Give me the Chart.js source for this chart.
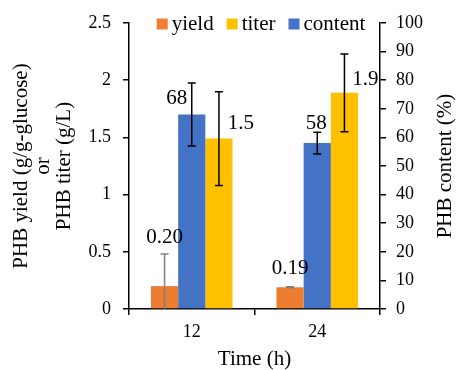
<!DOCTYPE html>
<html>
<head>
<meta charset="utf-8">
<script src="https://cdn.jsdelivr.net/npm/chart.js@4.4.0/dist/chart.umd.min.js"></script>
<style>
  html, body { margin: 0; padding: 0; background: #fff; }
</style>
</head>
<body>
<canvas id="myChart" width="458" height="370"></canvas>
<script>
// values
var times = ['12', '24'];
var yieldVals = [0.20, 0.19];
var yieldErr = [0.28, 0.005];
var contentVals = [68, 58];
var contentErr = [11, 3.8];
var titerVals = [1.49, 1.89];
var titerErr = [0.41, 0.34];
var legendOrder = ['yield', 'titer', 'content'];

var serif = '"Liberation Serif", "Times New Roman", serif';
Chart.defaults.color = '#000';
Chart.defaults.font.family = serif;

// error bars drawn from each dataset's own y scale
var errorBars = {
  id: 'errorBars',
  afterDatasetsDraw: function(chart) {
    var ctx = chart.ctx, area = chart.chartArea;
    ctx.save();
    ctx.beginPath();
    ctx.rect(area.left, 0, area.right - area.left, area.bottom);
    ctx.clip();
    chart.data.datasets.forEach(function(ds, i) {
      var meta = chart.getDatasetMeta(i);
      var scale = chart.scales[ds.yAxisID];
      meta.data.forEach(function(bar, j) {
        var v = ds.data[j], e = ds.errors[j];
        var yTop = scale.getPixelForValue(v + e);
        var yBot = scale.getPixelForValue(v - e);
        ctx.strokeStyle = ds.errorColor;
        ctx.lineWidth = 1.5;
        ctx.beginPath();
        ctx.moveTo(bar.x, yTop); ctx.lineTo(bar.x, yBot);
        ctx.moveTo(bar.x - 4, yTop); ctx.lineTo(bar.x + 4, yTop);
        ctx.moveTo(bar.x - 4, yBot); ctx.lineTo(bar.x + 4, yBot);
        ctx.stroke();
      });
    });
    ctx.restore();
  }
};

// value labels, nudged like the excel original
var valueLabels = {
  id: 'valueLabels',
  afterDatasetsDraw: function(chart) {
    var ctx = chart.ctx;
    ctx.save();
    ctx.font = '21px ' + serif;
    ctx.fillStyle = '#000';
    ctx.textAlign = 'center';
    ctx.textBaseline = 'middle';
    chart.data.datasets.forEach(function(ds, i) {
      var meta = chart.getDatasetMeta(i);
      meta.data.forEach(function(bar, j) {
        var off = ds.labelOffsets[j];
        ctx.fillText(ds.data[j].toFixed(ds.decimals), bar.x + off[0], bar.y + off[1]);
      });
    });
    ctx.restore();
  }
};

// legend sits inside the plot, in yield / titer / content order
var topLegend = {
  id: 'topLegend',
  afterDraw: function(chart) {
    var ctx = chart.ctx;
    var items = legendOrder.map(function(name) {
      return chart.data.datasets.find(function(d) { return d.label === name; });
    });
    ctx.save();
    ctx.font = '21px ' + serif;
    ctx.textBaseline = 'middle';
    ctx.textAlign = 'left';
    var box = 11, gap = 4, spacing = 13, total = 0;
    items.forEach(function(ds, k) {
      total += box + gap + ctx.measureText(ds.label).width + (k ? spacing : 0);
    });
    var x = 261 - total / 2, y = 24;
    items.forEach(function(ds) {
      ctx.fillStyle = ds.backgroundColor;
      ctx.fillRect(x, y - box / 2, box, box);
      ctx.fillStyle = '#000';
      ctx.fillText(ds.label, x + box + gap, y);
      x += box + gap + ctx.measureText(ds.label).width + spacing;
    });
    ctx.restore();
  }
};

// right axis title reads bottom to top in the original
var rightTitle = {
  id: 'rightTitle',
  afterDraw: function(chart) {
    var ctx = chart.ctx, area = chart.chartArea;
    ctx.save();
    ctx.font = '21px ' + serif;
    ctx.fillStyle = '#000';
    ctx.textAlign = 'center';
    ctx.textBaseline = 'middle';
    ctx.translate(445, (area.top + area.bottom) / 2);
    ctx.rotate(-Math.PI / 2);
    ctx.fillText('PHB content (%)', 0, 0);
    ctx.restore();
  }
};

var ctx = document.getElementById('myChart');
var myChart = new Chart(ctx, {
  type: 'bar',
  data: {
    labels: times,
    datasets: [
      {
        label: 'yield',
        data: yieldVals,
        errors: yieldErr,
        errorColor: '#808080',
        decimals: 2,
        labelOffsets: [[0, -49], [0, -19]],
        backgroundColor: '#ED7D31',
        yAxisID: 'y'
      },
      {
        label: 'content',
        data: contentVals,
        errors: contentErr,
        errorColor: '#000',
        decimals: 0,
        labelOffsets: [[-15, -16], [-1, -20]],
        backgroundColor: '#4472C4',
        yAxisID: 'y1'
      },
      {
        label: 'titer',
        data: titerVals,
        errors: titerErr,
        errorColor: '#000',
        decimals: 1,
        labelOffsets: [[22, -15], [21, -13]],
        backgroundColor: '#FFC000',
        yAxisID: 'y'
      }
    ]
  },
  options: {
    responsive: false,
    animation: false,
    layout: { padding: { top: 23, left: 0, right: 0, bottom: 0 } },
    datasets: { bar: { categoryPercentage: 0.65, barPercentage: 1.0 } },
    plugins: {
      tooltip: { enabled: false },
      legend: { display: false }
    },
    scales: {
      x: {
        grid: { offset: true, drawOnChartArea: false, color: '#000', tickLength: 6, lineWidth: 1.5 },
        border: { color: '#000', width: 1.5 },
        ticks: { font: { size: 18 }, padding: 6 },
        title: { display: true, text: 'Time (h)', font: { size: 21, lineHeight: 1.0 }, padding: 0 },
        afterFit: function(s) { s.height = 61; }
      },
      y: {
        position: 'left',
        min: 0,
        max: 2.5,
        ticks: {
          stepSize: 0.5,
          font: { size: 18 },
          padding: 12,
          callback: function(v) { return String(v); }
        },
        grid: { drawOnChartArea: false, color: '#000', tickLength: 6, lineWidth: 1.5 },
        border: { color: '#000', width: 1.5 },
        title: {
          display: true,
          text: ['PHB yield (g/g-glucose)', 'or', 'PHB titer (g/L)'],
          font: { size: 21, lineHeight: 1.02 },
          padding: { top: 11, bottom: 0 }
        },
        afterFit: function(s) { s.width = 129; }
      },
      y1: {
        position: 'right',
        min: 0,
        max: 100,
        ticks: { stepSize: 10, font: { size: 18 }, padding: 10 },
        grid: { drawOnChartArea: false, color: '#000', tickLength: 6, lineWidth: 1.5 },
        border: { color: '#000', width: 1.5 },
        afterFit: function(s) { s.width = 78; }
      }
    }
  },
  plugins: [errorBars, valueLabels, topLegend, rightTitle]
});
</script>
</body>
</html>
